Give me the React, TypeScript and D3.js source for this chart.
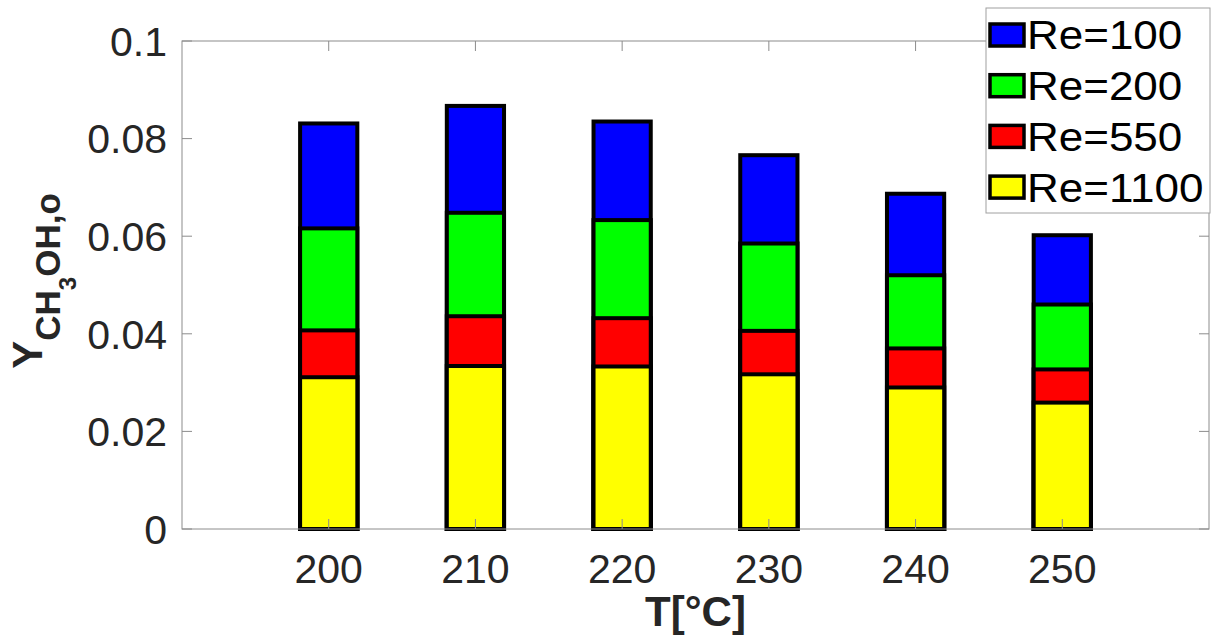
import React from "react";
import * as d3 from "d3";

// Outlet methanol mass fraction vs. temperature, one bar per Reynolds number (overlaid from zero)
const temperatures = [200, 210, 220, 230, 240, 250];
const seriesNames = ["Re=100", "Re=200", "Re=550", "Re=1100"];
const seriesColors = ["#0000ff", "#00ff00", "#ff0000", "#ffff00"];
const re100 = [0.0831, 0.0867, 0.0835, 0.0766, 0.0687, 0.0602];
const re200 = [0.0616, 0.0648, 0.0633, 0.0585, 0.052, 0.046];
const re550 = [0.0407, 0.0436, 0.0432, 0.0406, 0.037, 0.0327];
const re1100 = [0.0311, 0.0334, 0.0333, 0.0317, 0.029, 0.0259];
const seriesValues = [re100, re200, re550, re1100];
const yTicks = [0, 0.02, 0.04, 0.06, 0.08, 0.1];
const yTickLabels = ["0", "0.02", "0.04", "0.06", "0.08", "0.1"];

const W = 1213;
const H = 636;
const left = 182;
const right = 1209;
const top = 41;
const bottom = 529;
const font = "'Liberation Sans', Arial, Helvetica, sans-serif";
const axisColor = "#8c8c8c";
const textColor = "#262626";

export default function App() {
  const x = d3.scaleLinear().domain([190, 260]).range([left, right]);
  const y = d3.scaleLinear().domain([0, 0.1]).range([bottom, top]);
  const barW = (x(210) - x(200)) * 0.39;
  const tickLen = 10;

  return (
    <svg width={W} height={H} style={{ position: "absolute", left: 0, top: 0, background: "#fff" }}>
      <rect x={0} y={0} width={W} height={H} fill="#fff" />
      {/* bars, drawn back to front */}
      {seriesValues.map((vals, si) => (
        <g key={si}>
          {vals.map((v, i) => (
            <rect
              key={i}
              x={x(temperatures[i]) - barW / 2}
              y={y(v)}
              width={barW}
              height={y(0) - y(v)}
              fill={seriesColors[si]}
              stroke="#000"
              strokeWidth={4}
            />
          ))}
        </g>
      ))}
      {/* axes box */}
      <rect x={left} y={top} width={right - left} height={bottom - top} fill="none" stroke={axisColor} strokeWidth={1} />
      {temperatures.map((t) => (
        <g key={t}>
          <line x1={x(t)} x2={x(t)} y1={bottom} y2={bottom - tickLen} stroke={axisColor} />
          <line x1={x(t)} x2={x(t)} y1={top} y2={top + tickLen} stroke={axisColor} />
          <text x={x(t)} y={583} textAnchor="middle" fontFamily={font} fontSize={41} fill={textColor}>
            {t}
          </text>
        </g>
      ))}
      {yTicks.map((v, i) => (
        <g key={v}>
          <line x1={left} x2={left + tickLen} y1={y(v)} y2={y(v)} stroke={axisColor} />
          <line x1={right} x2={right - tickLen} y1={y(v)} y2={y(v)} stroke={axisColor} />
          <text x={167} y={y(v)} dy="0.36em" textAnchor="end" fontFamily={font} fontSize={41} fill={textColor}>
            {yTickLabels[i]}
          </text>
        </g>
      ))}
      {/* axis titles */}
      <text x={(left + right) / 2} y={626} textAnchor="middle" fontFamily={font} fontSize={42} fontWeight="bold" fill={textColor}>
        T[°C]
      </text>
      <text transform={`translate(42,${(top + bottom) / 2 - 4}) rotate(-90)`} textAnchor="middle" fontFamily={font} fontWeight="bold" fill={textColor}>
        <tspan fontSize={42}>Y</tspan>
        <tspan fontSize={35} dy={18}>CH</tspan>
        <tspan fontSize={24} dy={16}>3</tspan>
        <tspan fontSize={35} dy={-16}>OH,o</tspan>
      </text>
      {/* legend */}
      <rect x={986} y={8} width={224} height={205} fill="#fff" stroke="#a0a0a0" strokeWidth={1} />
      {seriesNames.map((name, i) => {
        const cy = 35 + i * 50.7;
        return (
          <g key={name}>
            <rect x={990} y={cy - 11} width={34} height={22} fill={seriesColors[i]} stroke="#000" strokeWidth={3.5} />
            <text transform={`translate(1027,${cy}) scale(1.1,1)`} dy="0.36em" fontFamily={font} fontSize={40} fill="#000">
              {name}
            </text>
          </g>
        );
      })}
    </svg>
  );
}
